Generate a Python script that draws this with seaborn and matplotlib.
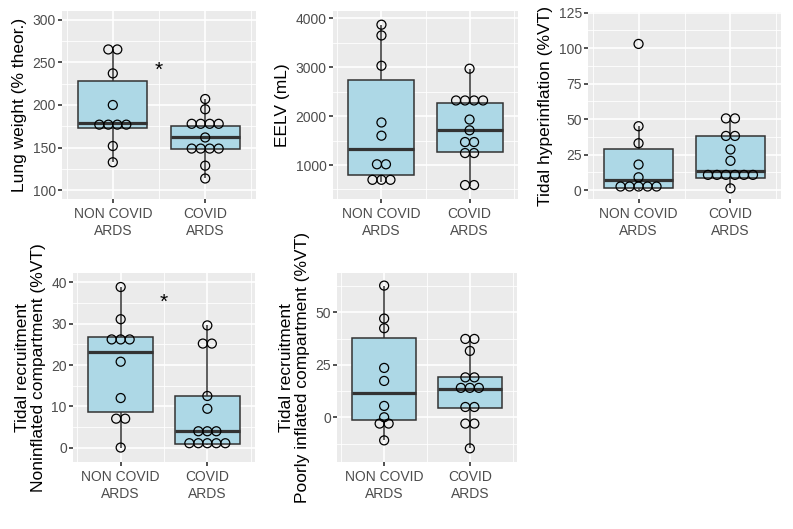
import numpy as np
import pandas as pd
import matplotlib
matplotlib.use("Agg")
import matplotlib.pyplot as plt
from matplotlib.ticker import MultipleLocator, FixedLocator, AutoMinorLocator
import seaborn as sns

# ---------------- data ----------------
groups = ["NON COVID ARDS", "COVID ARDS"]
group_labels = ["NON COVID\nARDS", "COVID\nARDS"]

lung_non = [265, 265, 237, 200, 182, 176, 174, 172, 152, 133]
lung_covid = [207, 195, 182, 176, 175, 174, 162, 151, 150, 148, 147, 129, 114]

eelv_non = [3870, 3650, 3030, 1870, 1600, 1045, 985, 735, 700, 660]
eelv_covid = [2970, 2400, 2330, 2260, 2240, 1930, 1710, 1490, 1450, 1260, 1230, 600, 580]

hyper_non = [103, 45, 33, 18, 9, 5, 3, 1, 0.5, 0]
hyper_covid = [51, 50, 38.5, 37.8, 28.6, 20.6, 13.4, 12.5, 11, 8.4, 8.2, 8, 1.2]

recr_noninfl_non = [38.9, 31.1, 27.0, 26.6, 25.4, 20.8, 12, 7.6, 6.4, 0]
recr_noninfl_covid = [29.6, 25.4, 25.0, 12.5, 9.4, 4.4, 3.9, 3.5, 1.6, 0.9, 0.9, 0.8, 0.5]

recr_poor_non = [62.7, 47, 42.4, 23.5, 17.3, 5.4, 0, -2, -4, -11]
recr_poor_covid = [37.6, 37.0, 31.6, 19.4, 18.6, 15.0, 13.5, 13.0, 5.4, 4.4, -2.5, -3.5, -14.8]

ylabels = ["Lung weight (% theor.)", "EELV (mL)", "Tidal hyperinflation (%VT)",
           "Tidal recruitment\nNoninflated compartment (%VT)",
           "Tidal recruitment\nPoorly inflated compartment (%VT)"]
star_y = [241, None, None, 35.2, None]

panels = [
    (lung_non, lung_covid),
    (eelv_non, eelv_covid),
    (hyper_non, hyper_covid),
    (recr_noninfl_non, recr_noninfl_covid),
    (recr_poor_non, recr_poor_covid),
]

# ---------------- style / layout ----------------
ylims = [(90, 310), (305, 4150), (-6.3, 125.5), (-3.5, 42.3), (-21.3, 68.7)]
ysteps = [50, 1000, 25, 10, 25]
binwidths = [11, 190, 6.4, 2.2, 3.5]
# panel boxes in pixels: left, top, right, bottom
boxes_px = [(62, 11, 256, 199), (333, 11, 518, 199), (588, 12, 781, 199),
            (73, 273, 255, 462), (337, 273, 517, 462)]

W, H = 793, 529
DPI = 100
plt.rcParams["font.family"] = ["Liberation Sans", "DejaVu Sans"]
fig = plt.figure(figsize=(W / DPI, H / DPI), dpi=DPI)
fig.patch.set_facecolor("white")

XLIM = (-0.55, 1.55)
DOT_SPACING_PX = 9.0


def dot_positions(values, binwidth):
    vals = sorted(values)
    bins = []
    cur = [vals[0]]
    for v in vals[1:]:
        if v - cur[0] > binwidth:
            bins.append(cur)
            cur = [v]
        else:
            cur.append(v)
    bins.append(cur)
    out = []
    for b in bins:
        c = (min(b) + max(b)) / 2
        k = len(b)
        for i in range(k):
            out.append((i - (k - 1) / 2, c))
    return out


for idx, (non, cov) in enumerate(panels):
    l, t, r, b = boxes_px[idx]
    ax = fig.add_axes([l / W, 1 - b / H, (r - l) / W, (b - t) / H])
    ax.set_facecolor("#EBEBEB")
    for s in ax.spines.values():
        s.set_visible(False)

    df = pd.DataFrame({"group": [groups[0]] * len(non) + [groups[1]] * len(cov),
                       "value": list(non) + list(cov)})
    sns.boxplot(data=df, x="group", y="value", order=groups, ax=ax, width=0.75,
                color="#ADD8E6", saturation=1, linecolor="#333333", linewidth=1.1,
                showcaps=False, showfliers=False, whis=1.5,
                medianprops={"linewidth": 2.3, "color": "#333333"}, zorder=2)

    # dots (centered dot stacks)
    unit_px = (r - l) / (XLIM[1] - XLIM[0])
    spacing = DOT_SPACING_PX / unit_px
    xs, ys = [], []
    for gi, vals in enumerate((non, cov)):
        for off, yc in dot_positions(vals, binwidths[idx]):
            xs.append(gi + off * spacing)
            ys.append(yc)
    dots = pd.DataFrame({"x": xs, "y": ys})
    sns.scatterplot(data=dots, x="x", y="y", ax=ax, s=42, color="black",
                    edgecolor="black", linewidth=0.9, legend=False, zorder=5)
    ax.collections[-1].set_facecolor("none")

    if star_y[idx] is not None:
        ax.text(0.5, star_y[idx], "*", ha="center", va="center", fontsize=15,
                color="black", zorder=6)

    ax.set_xlim(*XLIM)
    ax.set_ylim(*ylims[idx])
    ax.set_xticks([0, 1])
    ax.set_xticklabels(group_labels)
    ax.xaxis.set_minor_locator(FixedLocator([-0.5, 0.5, 1.5]))
    ax.yaxis.set_major_locator(MultipleLocator(ysteps[idx]))
    ax.yaxis.set_minor_locator(AutoMinorLocator(2))
    ax.set_axisbelow(True)
    ax.grid(which="major", color="white", linewidth=1.2)
    ax.grid(which="minor", color="white", linewidth=0.6)
    ax.tick_params(axis="both", which="major", length=3, width=1.2, color="#333333",
                   labelcolor="#4D4D4D", labelsize=10)
    ax.tick_params(axis="y", which="major", pad=1.5)
    ax.tick_params(axis="x", which="major", pad=3)
    ax.tick_params(which="minor", length=0)
    ax.set_xlabel("")
    ax.set_ylabel(ylabels[idx], fontsize=12.5, color="black", labelpad=4,
                  linespacing=1.05)

fig.savefig("out.png", dpi=DPI, facecolor="white")
